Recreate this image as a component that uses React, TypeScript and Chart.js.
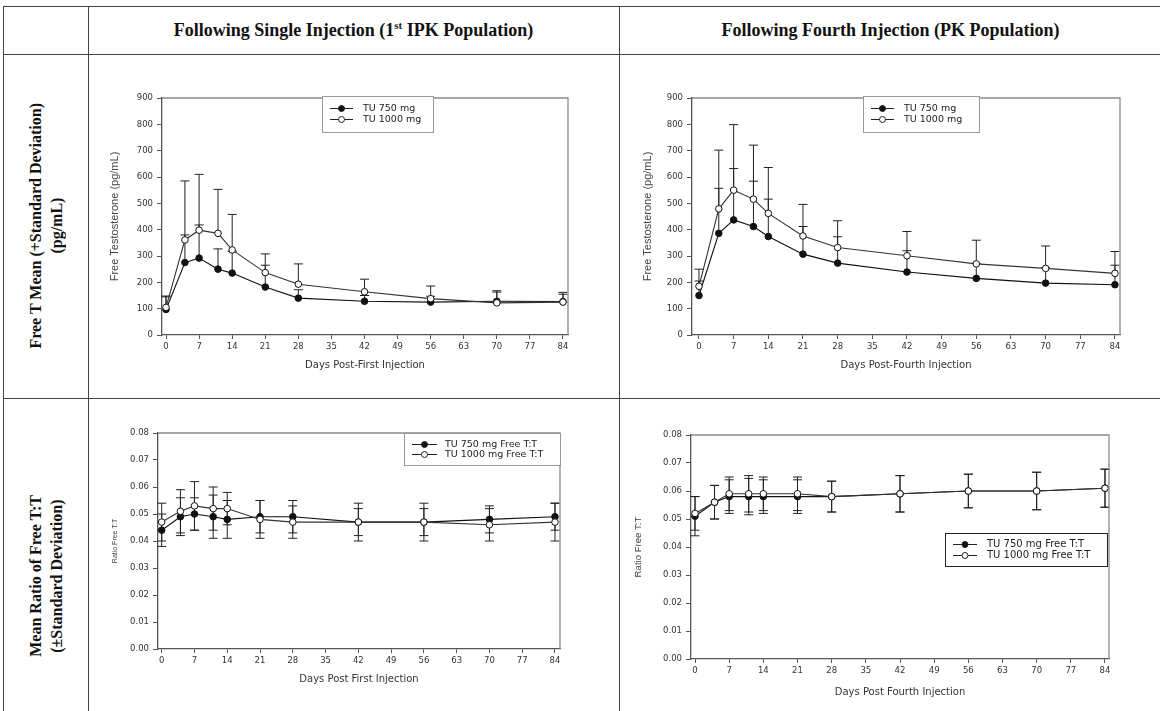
import React, { useEffect, useRef } from "react";
import { Chart, registerables } from "chart.js";

Chart.register(...registerables);

// ---------------- data ----------------
const DAYS = [0, 4, 7, 11, 14, 21, 28, 42, 56, 70, 84];
const DAY_TICKS = [0, 7, 14, 21, 28, 35, 42, 49, 56, 63, 70, 77, 84];
const FREE_T_TICKS = [0, 100, 200, 300, 400, 500, 600, 700, 800, 900];
const RATIO_TICKS = [0, 0.01, 0.02, 0.03, 0.04, 0.05, 0.06, 0.07, 0.08];

const LABELS_FT = ["TU 750 mg", "TU 1000 mg"];
const LABELS_RATIO = ["TU 750 mg Free T:T", "TU 1000 mg Free T:T"];

// Free T (pg/mL), single injection
const FT_SINGLE_750 = [97, 275, 292, 250, 235, 182, 140, 128, 125, 128, 127];
const FT_SINGLE_750_SD = [48, 105, 126, 77, 83, 83, 32, 22, 22, 35, 28];
const FT_SINGLE_1000 = [105, 361, 398, 386, 323, 237, 193, 164, 138, 122, 125];
const FT_SINGLE_1000_SD = [43, 224, 212, 167, 135, 71, 77, 48, 48, 46, 37];

// Free T (pg/mL), fourth injection
const FT_FOURTH_750 = [150, 386, 437, 412, 374, 307, 273, 239, 215, 197, 191];
const FT_FOURTH_750_SD = [55, 171, 195, 172, 142, 105, 100, 81, 57, 58, 74];
const FT_FOURTH_1000 = [185, 479, 550, 516, 462, 376, 332, 301, 270, 253, 234];
const FT_FOURTH_1000_SD = [65, 223, 249, 205, 174, 120, 102, 92, 90, 85, 83];

// Ratio free T : T, single injection
const RATIO_SINGLE_750 = [0.044, 0.049, 0.05, 0.049, 0.048, 0.049, 0.049, 0.047, 0.047, 0.048, 0.049];
const RATIO_SINGLE_750_SD = [0.006, 0.007, 0.006, 0.008, 0.007, 0.006, 0.006, 0.007, 0.007, 0.005, 0.005];
const RATIO_SINGLE_1000 = [0.047, 0.051, 0.053, 0.052, 0.052, 0.048, 0.047, 0.047, 0.047, 0.046, 0.047];
const RATIO_SINGLE_1000_SD = [0.007, 0.008, 0.009, 0.008, 0.006, 0.007, 0.006, 0.005, 0.005, 0.006, 0.007];

// Ratio free T : T, fourth injection
const RATIO_FOURTH_750 = [0.051, 0.056, 0.058, 0.058, 0.058, 0.058, 0.058, 0.059, 0.06, 0.06, 0.061];
const RATIO_FOURTH_750_SD = [0.007, 0.006, 0.006, 0.0065, 0.006, 0.006, 0.0055, 0.0065, 0.006, 0.0067, 0.0068];
const RATIO_FOURTH_1000 = [0.052, 0.056, 0.059, 0.059, 0.059, 0.059, 0.058, 0.059, 0.06, 0.06, 0.061];
const RATIO_FOURTH_1000_SD = [0.006, 0.006, 0.006, 0.0065, 0.006, 0.006, 0.0055, 0.0065, 0.006, 0.0067, 0.0068];

// ---------------- chart specs ----------------
type Series = { label: string; mean: number[]; sd: number[]; filled: boolean };
type Spec = {
  key: string;
  box: { left: number; top: number; width: number; height: number };
  yAxisWidth: number;
  xAxisHeight: number;
  padTop: number;
  padRight: number;
  xMin: number;
  xMax: number;
  yMax: number;
  yTicks: number[];
  yDecimals: number;
  yTitle: string;
  yTitleSize: number;
  yTitlePad: number;
  xTitle: string;
  xTitlePad: number;
  bothSides: boolean;
  series: Series[];
  legend: {
    dx: number; dy: number; w: number; h: number; rows: number[];
    lineX0: number; lineX1: number; textX: number; fontSize: number; border: string;
  };
};

const SPECS: Spec[] = [
  {
    key: "tl",
    box: { left: 98, top: 86, width: 482, height: 289 },
    yAxisWidth: 64, xAxisHeight: 40, padTop: 12, padRight: 12,
    xMin: -0.85, xMax: 85.06, yMax: 900, yTicks: FREE_T_TICKS, yDecimals: 0,
    yTitle: "Free Testosterone (pg/mL)", yTitleSize: 11, yTitlePad: 10.4,
    xTitle: "Days Post-First Injection", xTitlePad: 4,
    bothSides: false,
    series: [
      { label: LABELS_FT[0], mean: FT_SINGLE_750, sd: FT_SINGLE_750_SD, filled: true },
      { label: LABELS_FT[1], mean: FT_SINGLE_1000, sd: FT_SINGLE_1000_SD, filled: false },
    ],
    legend: { dx: 160, dy: -2, w: 111, h: 36, rows: [12, 23], lineX0: 8, lineX1: 31, textX: 41, fontSize: 9.5, border: "#999" },
  },
  {
    key: "tr",
    box: { left: 630, top: 86, width: 502, height: 289 },
    yAxisWidth: 62, xAxisHeight: 40, padTop: 12, padRight: 12,
    xMin: -1.41, xMax: 85.02, yMax: 900, yTicks: FREE_T_TICKS, yDecimals: 0,
    yTitle: "Free Testosterone (pg/mL)", yTitleSize: 11, yTitlePad: 11.4,
    xTitle: "Days Post-Fourth Injection", xTitlePad: 4,
    bothSides: false,
    series: [
      { label: LABELS_FT[0], mean: FT_FOURTH_750, sd: FT_FOURTH_750_SD, filled: true },
      { label: LABELS_FT[1], mean: FT_FOURTH_1000, sd: FT_FOURTH_1000_SD, filled: false },
    ],
    legend: { dx: 171, dy: -2, w: 116, h: 36, rows: [12, 23], lineX0: 8, lineX1: 31, textX: 41, fontSize: 9.5, border: "#999" },
  },
  {
    key: "bl",
    box: { left: 100, top: 421, width: 472, height: 268 },
    yAxisWidth: 58, xAxisHeight: 40, padTop: 12, padRight: 12,
    xMin: -0.79, xMax: 85.07, yMax: 0.08, yTicks: RATIO_TICKS, yDecimals: 2,
    yTitle: "Ratio Free T:T", yTitleSize: 7, yTitlePad: 10.8,
    xTitle: "Days Post First Injection", xTitlePad: 4,
    bothSides: true,
    series: [
      { label: LABELS_RATIO[0], mean: RATIO_SINGLE_750, sd: RATIO_SINGLE_750_SD, filled: true },
      { label: LABELS_RATIO[1], mean: RATIO_SINGLE_1000, sd: RATIO_SINGLE_1000_SD, filled: false },
    ],
    legend: { dx: 246, dy: 0, w: 156, h: 32, rows: [11, 21], lineX0: 8, lineX1: 33, textX: 41, fontSize: 9.5, border: "#999" },
  },
  {
    key: "br",
    box: { left: 625, top: 423, width: 496, height: 280 },
    yAxisWidth: 66, xAxisHeight: 44, padTop: 12, padRight: 12,
    xMin: -0.82, xMax: 84.82, yMax: 0.08, yTicks: RATIO_TICKS, yDecimals: 2,
    yTitle: "Ratio Free T:T", yTitleSize: 9.6, yTitlePad: 7.2,
    xTitle: "Days Post Fourth Injection", xTitlePad: 5,
    bothSides: true,
    series: [
      { label: LABELS_RATIO[0], mean: RATIO_FOURTH_750, sd: RATIO_FOURTH_750_SD, filled: true },
      { label: LABELS_RATIO[1], mean: RATIO_FOURTH_1000, sd: RATIO_FOURTH_1000_SD, filled: false },
    ],
    legend: { dx: 254, dy: 98, w: 162, h: 33, rows: [11, 22], lineX0: 8, lineX1: 32, textX: 42, fontSize: 10, border: "#222" },
  },
];

const FONT = "'DejaVu Sans', sans-serif";
const AXIS_COLOR = "#555";

function makePlugin(spec: Spec) {
  return {
    id: "sketch_" + spec.key,
    beforeDatasetsDraw(chart: any) {
      const { ctx } = chart;
      const xs = chart.scales.x;
      const ys = chart.scales.y;
      const cap = 4.5;
      ctx.save();
      ctx.strokeStyle = "#222";
      ctx.lineWidth = 1;
      spec.series.forEach((s) => {
        DAYS.forEach((d, j) => {
          const px = xs.getPixelForValue(d);
          const top = ys.getPixelForValue(s.mean[j] + s.sd[j]);
          const bot = ys.getPixelForValue(spec.bothSides ? s.mean[j] - s.sd[j] : s.mean[j]);
          ctx.beginPath();
          ctx.moveTo(px, bot);
          ctx.lineTo(px, top);
          ctx.moveTo(px - cap, top);
          ctx.lineTo(px + cap, top);
          if (spec.bothSides) {
            ctx.moveTo(px - cap, bot);
            ctx.lineTo(px + cap, bot);
          }
          ctx.stroke();
        });
      });
      ctx.restore();
    },
    afterDraw(chart: any) {
      const { ctx, chartArea } = chart;
      ctx.save();
      ctx.strokeStyle = "#8a8a8a";
      ctx.lineWidth = 1.3;
      ctx.beginPath();
      ctx.moveTo(chartArea.left, chartArea.top);
      ctx.lineTo(chartArea.right, chartArea.top);
      ctx.lineTo(chartArea.right, chartArea.bottom);
      ctx.stroke();
      const L = spec.legend;
      const x = Math.round(chartArea.left + L.dx);
      const y = Math.round(chartArea.top + L.dy);
      ctx.fillStyle = "#fff";
      ctx.fillRect(x, y, L.w, L.h);
      ctx.strokeStyle = L.border;
      ctx.lineWidth = 1;
      ctx.strokeRect(x + 0.5, y + 0.5, L.w, L.h);
      spec.series.forEach((s, i) => {
        const ry = y + L.rows[i] + 0.5;
        ctx.strokeStyle = "#222";
        ctx.lineWidth = 1;
        ctx.beginPath();
        ctx.moveTo(x + L.lineX0, ry);
        ctx.lineTo(x + L.lineX1, ry);
        ctx.stroke();
        ctx.beginPath();
        ctx.arc(x + (L.lineX0 + L.lineX1) / 2, ry, 3, 0, Math.PI * 2);
        ctx.fillStyle = s.filled ? "#111" : "#fff";
        ctx.fill();
        ctx.stroke();
        ctx.fillStyle = "#222";
        ctx.font = `${L.fontSize}px ${FONT}`;
        ctx.textBaseline = "middle";
        ctx.textAlign = "left";
        ctx.fillText(s.label, x + L.textX, ry);
      });
      ctx.restore();
    },
  };
}

function buildConfig(spec: Spec): any {
  const datasets = spec.series.map((s) => ({
    label: s.label,
    data: DAYS.map((d, j) => ({ x: d, y: s.mean[j] })),
    borderColor: s.filled ? "#111" : "#333",
    borderWidth: 1.1,
    pointRadius: 3.3,
    pointBorderWidth: 1,
    pointBackgroundColor: s.filled ? "#111" : "#fff",
    pointBorderColor: "#111",
    fill: false,
    tension: 0,
    order: s.filled ? 1 : 0,
  }));
  return {
    type: "line",
    data: { datasets },
    options: {
      animation: false,
      responsive: false,
      devicePixelRatio: 1,
      layout: { padding: { left: 0, top: spec.padTop, right: spec.padRight, bottom: 0 } },
      plugins: { legend: { display: false }, tooltip: { enabled: false } },
      scales: {
        x: {
          type: "linear",
          min: spec.xMin,
          max: spec.xMax,
          afterFit: (s: any) => { s.height = spec.xAxisHeight; },
          afterBuildTicks: (s: any) => { s.ticks = DAY_TICKS.map((v) => ({ value: v })); },
          ticks: { font: { family: FONT, size: 8.5 }, color: "#333", padding: 3, maxRotation: 0, autoSkip: false, callback: (v: any) => String(v) },
          grid: { display: true, drawOnChartArea: false, drawTicks: true, tickLength: 4, color: AXIS_COLOR, lineWidth: 1 },
          border: { display: true, color: AXIS_COLOR, width: 1.3 },
          title: { display: true, text: spec.xTitle, color: "#333", font: { family: FONT, size: 10 }, padding: { top: 0, bottom: spec.xTitlePad } },
        },
        y: {
          type: "linear",
          min: 0,
          max: spec.yMax,
          afterFit: (s: any) => { s.width = spec.yAxisWidth; },
          afterBuildTicks: (s: any) => { s.ticks = spec.yTicks.map((v) => ({ value: v })); },
          ticks: { font: { family: FONT, size: 8.5 }, color: "#333", padding: 4, callback: (v: any) => Number(v).toFixed(spec.yDecimals) },
          grid: { display: true, drawOnChartArea: false, drawTicks: true, tickLength: 5, color: AXIS_COLOR, lineWidth: 1 },
          border: { display: true, color: AXIS_COLOR, width: 1.3 },
          title: { display: true, text: spec.yTitle, color: "#444", font: { family: "'Liberation Sans', Arial, sans-serif", size: spec.yTitleSize }, padding: { top: spec.yTitlePad, bottom: 0 } },
        },
      },
    },
    plugins: [makePlugin(spec)],
  };
}

function PlotCanvas({ spec }: { spec: Spec }) {
  const ref = useRef<HTMLCanvasElement>(null);
  useEffect(() => {
    const chart = new Chart(ref.current as HTMLCanvasElement, buildConfig(spec));
    return () => chart.destroy();
  }, [spec]);
  const b = spec.box;
  return (
    <canvas
      ref={ref}
      width={b.width}
      height={b.height}
      style={{ position: "absolute", left: b.left, top: b.top, width: b.width, height: b.height }}
    />
  );
}

// ---------------- table layout ----------------
const LINE = "#444";
const TABLE_TOP = 6;
const HEADER_BOTTOM = 54;
const ROW_SPLIT = 398;
const X_LEFT = 3;
const X_COL1 = 88;
const X_COL2 = 619;

function HLine({ y }: { y: number }) {
  return <div style={{ position: "absolute", left: X_LEFT, top: y, width: 1160 - X_LEFT, height: 1, background: LINE }} />;
}
function VLine({ x }: { x: number }) {
  return <div style={{ position: "absolute", left: x, top: TABLE_TOP, width: 1, height: 711 - TABLE_TOP, background: LINE }} />;
}

const serif = "'Liberation Serif', 'Times New Roman', serif";
const rowLabelStyle: React.CSSProperties = {
  writingMode: "vertical-rl",
  textOrientation: "sideways",
  transform: "rotate(180deg)",
  textAlign: "center",
  font: `bold 16px ${serif}`,
  lineHeight: "21px",
  color: "#111",
};

export default function App() {
  return (
    <div style={{ position: "absolute", left: 0, top: 0, width: 1160, height: 711, overflow: "hidden", background: "#fff" }}>
      <HLine y={TABLE_TOP} />
      <HLine y={HEADER_BOTTOM} />
      <HLine y={ROW_SPLIT} />
      <VLine x={X_LEFT} />
      <VLine x={X_COL1} />
      <VLine x={X_COL2} />

      <div style={{ position: "absolute", left: X_COL1, top: TABLE_TOP, width: X_COL2 - X_COL1, height: HEADER_BOTTOM - TABLE_TOP, display: "flex", alignItems: "center", justifyContent: "center", font: `bold 18px ${serif}`, color: "#111" }}>
        <span>Following Single Injection (1<sup style={{ fontSize: "60%" }}>st</sup> IPK Population)</span>
      </div>
      <div style={{ position: "absolute", left: X_COL2, top: TABLE_TOP, width: 1162 - X_COL2, height: HEADER_BOTTOM - TABLE_TOP, display: "flex", alignItems: "center", justifyContent: "center", font: `bold 18px ${serif}`, color: "#111" }}>
        <span>Following Fourth Injection (PK Population)</span>
      </div>

      <div style={{ position: "absolute", left: X_LEFT, top: HEADER_BOTTOM, width: X_COL1 - X_LEFT, height: ROW_SPLIT - HEADER_BOTTOM, display: "flex", alignItems: "center", justifyContent: "center" }}>
        <div style={rowLabelStyle}>
          Free T Mean (+Standard Deviation)<br />(pg/mL)
        </div>
      </div>
      <div style={{ position: "absolute", left: X_LEFT, top: ROW_SPLIT, width: X_COL1 - X_LEFT, height: 355, display: "flex", alignItems: "center", justifyContent: "center" }}>
        <div style={rowLabelStyle}>
          Mean Ratio of Free T:T<br />(±Standard Deviation)
        </div>
      </div>

      {SPECS.map((s) => (
        <PlotCanvas key={s.key} spec={s} />
      ))}
    </div>
  );
}
